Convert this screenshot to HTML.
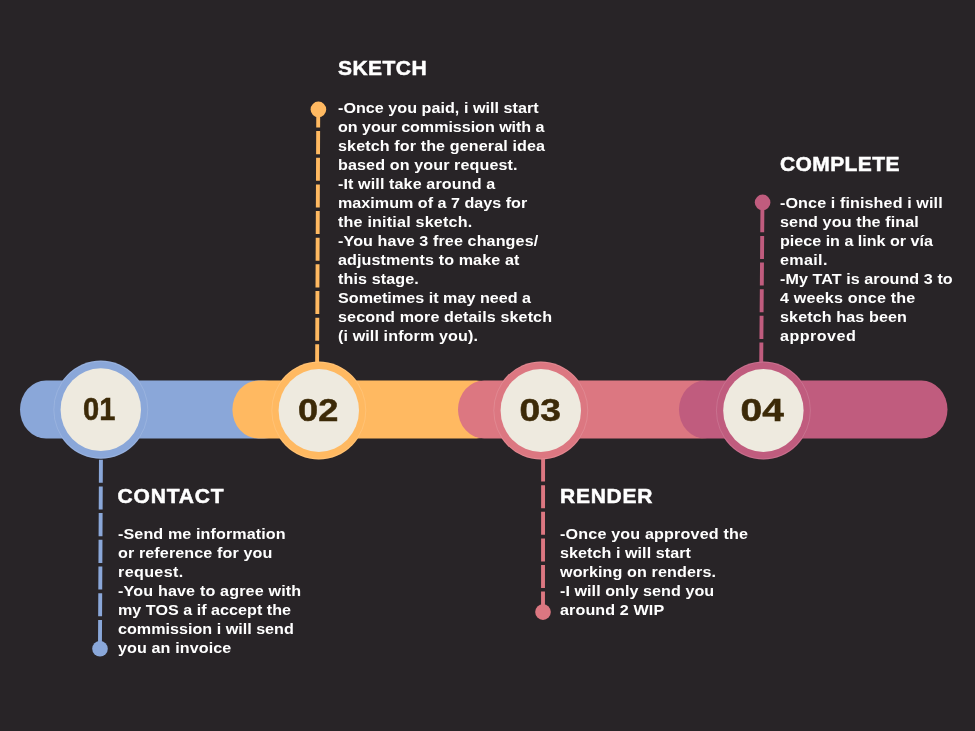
<!DOCTYPE html>
<html lang="en">
<head>
<meta charset="utf-8">
<title>Commission Process</title>
<style>
html,body{margin:0;padding:0;}
body{width:975px;height:731px;background:#282427;overflow:hidden;position:relative;font-family:"Liberation Sans",Arial,sans-serif;}
.art{position:absolute;left:0;top:0;display:block;}
.body{position:absolute;will-change:transform;color:#fff;font-weight:bold;font-size:15.5px;line-height:19px;letter-spacing:0.1px;white-space:nowrap;}
.body p{margin:0;height:19px;transform:scaleX(1.04);transform-origin:0 0;}
h2{position:absolute;will-change:transform;-webkit-text-stroke:0.5px #fff;margin:0;color:#fff;font-weight:bold;font-size:21px;line-height:26px;white-space:nowrap;}
.num{position:absolute;will-change:transform;-webkit-text-stroke:0.5px #3c2a08;width:100px;height:100px;line-height:100px;text-align:center;color:#3c2a08;font-weight:bold;font-size:31px;}
.num span{display:inline-block;}
</style>
</head>
<body>
<svg class="art" width="975" height="731" viewBox="0 0 975 731">
<line x1="100.95" y1="456" x2="99.95" y2="648.7" stroke="#8aa7d9" stroke-width="3.9" stroke-dasharray="23.10 3.6" stroke-dashoffset="23.00"/>
<circle cx="100.0" cy="648.7" r="7.8" fill="#8aa7d9"/>
<line x1="318.25" y1="109.4" x2="317.1" y2="366" stroke="#ffb961" stroke-width="3.9" stroke-dasharray="23.05 3.6" stroke-dashoffset="4.95"/>
<circle cx="318.4" cy="109.4" r="7.8" fill="#ffb961"/>
<line x1="543.1" y1="456" x2="543.0" y2="612.0" stroke="#dc7781" stroke-width="3.9" stroke-dasharray="23.00 3.6" stroke-dashoffset="24.00"/>
<circle cx="543.0" cy="612.1" r="7.8" fill="#dc7781"/>
<line x1="762.45" y1="202.5" x2="761.2" y2="366" stroke="#c05c7e" stroke-width="3.9" stroke-dasharray="23.05 3.6" stroke-dashoffset="19.90"/>
<circle cx="762.6" cy="202.4" r="7.8" fill="#c05c7e"/>
<rect x="20" y="380.6" width="270" height="57.9" rx="26" ry="28.95" fill="#8aa7d9"/>
<ellipse cx="100.8" cy="409.7" rx="47.6" ry="49.1" fill="#8aa7d9"/>
<ellipse cx="100.8" cy="409.7" rx="47.0" ry="48.5" fill="none" stroke="#fff" stroke-opacity="0.13" stroke-width="1"/>
<ellipse cx="100.8" cy="409.7" rx="40.2" ry="41.4" fill="#eeeadf"/>
<rect x="232.4" y="380.6" width="270" height="57.9" rx="26" ry="28.95" fill="#ffb961"/>
<ellipse cx="318.8" cy="410.5" rx="47.6" ry="49.1" fill="#ffb961"/>
<ellipse cx="318.8" cy="410.5" rx="47.0" ry="48.5" fill="none" stroke="#fff" stroke-opacity="0.13" stroke-width="1"/>
<ellipse cx="318.8" cy="410.5" rx="40.2" ry="41.4" fill="#eeeadf"/>
<rect x="458" y="380.6" width="270" height="57.9" rx="26" ry="28.95" fill="#dc7781"/>
<ellipse cx="540.8" cy="410.5" rx="47.6" ry="49.1" fill="#dc7781"/>
<ellipse cx="540.8" cy="410.5" rx="47.0" ry="48.5" fill="none" stroke="#fff" stroke-opacity="0.13" stroke-width="1"/>
<ellipse cx="540.8" cy="410.5" rx="40.2" ry="41.4" fill="#eeeadf"/>
<rect x="679" y="380.6" width="268.5" height="57.9" rx="26" ry="28.95" fill="#c05c7e"/>
<ellipse cx="763.4" cy="410.5" rx="47.6" ry="49.1" fill="#c05c7e"/>
<ellipse cx="763.4" cy="410.5" rx="47.0" ry="48.5" fill="none" stroke="#fff" stroke-opacity="0.13" stroke-width="1"/>
<ellipse cx="763.4" cy="410.5" rx="40.2" ry="41.4" fill="#eeeadf"/>
</svg>
<div class="body" style="left:337px;top:98px;padding-left:0.8px">
<p style="letter-spacing:0.03px">-Once you paid, i will start</p>
<p style="letter-spacing:-0.05px">on your commission with a</p>
<p style="letter-spacing:0.10px">sketch for the general idea</p>
<p style="letter-spacing:0.10px">based on your request.</p>
<p style="letter-spacing:0.10px">-It will take around a</p>
<p style="letter-spacing:0.01px">maximum of a 7 days for</p>
<p style="letter-spacing:0.18px">the initial sketch.</p>
<p style="letter-spacing:0.10px">-You have 3 free changes/</p>
<p style="letter-spacing:0.10px">adjustments to make at</p>
<p style="letter-spacing:0.10px">this stage.</p>
<p style="letter-spacing:0.02px">Sometimes it may need a</p>
<p style="letter-spacing:0.10px">second more details sketch</p>
<p style="letter-spacing:0.10px">(i will inform you).</p>
</div>
<div class="body" style="left:117px;top:524px;padding-left:0.8px">
<p style="letter-spacing:0.10px">-Send me information</p>
<p style="letter-spacing:0.10px">or reference for you</p>
<p style="letter-spacing:0.34px">request.</p>
<p style="letter-spacing:0.15px">-You have to agree with</p>
<p style="letter-spacing:0.02px">my TOS a if accept the</p>
<p style="letter-spacing:0.01px">commission i will send</p>
<p style="letter-spacing:0.10px">you an invoice</p>
</div>
<div class="body" style="left:560px;top:524px;padding-left:0.2px">
<p style="letter-spacing:0.16px">-Once you approved the</p>
<p style="letter-spacing:0.05px">sketch i will start</p>
<p style="letter-spacing:0.10px">working on renders.</p>
<p style="letter-spacing:0.05px">-I will only send you</p>
<p style="letter-spacing:0.10px">around 2 WIP</p>
</div>
<div class="body" style="left:780px;top:193px;padding-left:0.1px">
<p style="letter-spacing:0.10px">-Once i finished i will</p>
<p style="letter-spacing:0.10px">send you the final</p>
<p style="letter-spacing:-0.01px">piece in a link or vía</p>
<p style="letter-spacing:0.32px">email.</p>
<p style="letter-spacing:0.06px">-My TAT is around 3 to</p>
<p style="letter-spacing:0.17px">4 weeks once the</p>
<p style="letter-spacing:0.10px">sketch has been</p>
<p style="letter-spacing:0.44px">approved</p>
</div>
<h2 style="left:338px;top:55px;letter-spacing:0.46px;padding-left:0.0px">SKETCH</h2>
<h2 style="left:117px;top:483px;letter-spacing:0.83px;padding-left:0.5px">CONTACT</h2>
<h2 style="left:560px;top:483px;letter-spacing:0.71px;padding-left:0.1px">RENDER</h2>
<h2 style="left:780px;top:151px;letter-spacing:0.39px;padding-left:0.0px">COMPLETE</h2>
<div class="num" style="left:49px;top:360px;padding-left:0.5px"><span style="transform:scaleX(0.938)">01</span></div>
<div class="num" style="left:268px;top:361px;padding-left:0.3px"><span style="transform:scaleX(1.167)">02</span></div>
<div class="num" style="left:489px;top:361px;padding-left:0.9px"><span style="transform:scaleX(1.197)">03</span></div>
<div class="num" style="left:712px;top:361px;padding-left:0.6px"><span style="transform:scaleX(1.254)">04</span></div>
</body>
</html>
